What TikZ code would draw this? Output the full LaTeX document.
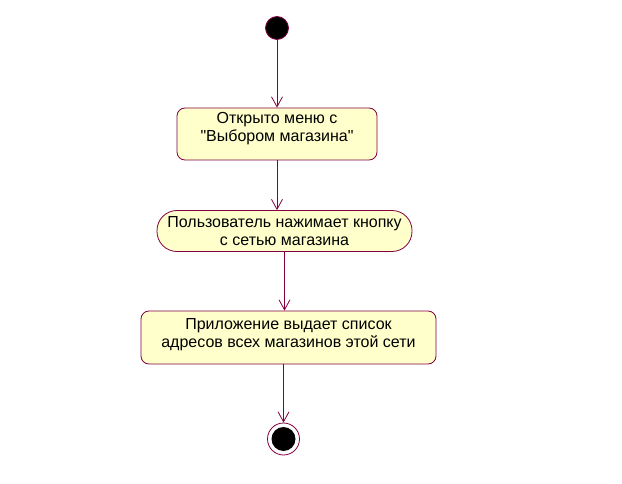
\documentclass[tikz,border=0pt]{standalone}
\usepackage{fontspec}
\setmainfont{Liberation Sans}[Ligatures=TeXOff]
\usetikzlibrary{arrows.meta}

\definecolor{rosered}{RGB}{128,0,64}
\definecolor{roseyellow}{RGB}{255,255,204}

\begin{document}
\begin{tikzpicture}[x=1pt, y=-1pt, line width=0.8pt,
		state node/.style={draw=rosered, fill=roseyellow, rounded corners=8pt,
			align=center, inner sep=0pt, font=\fontsize{16}{18}\selectfont},
		every edge/.style={draw=rosered, -{Straight Barb[length=10pt,width=11pt]}}]
	\useasboundingbox (0,0) rectangle (622,484);

			\node[circle, fill=black, draw=rosered, minimum size=23pt, inner sep=0pt] (start) at (277,28) {};
			\node[state node, minimum width=200pt, minimum height=52pt, text depth=14pt] (1) at (277,134) {Открыто меню с\\"Выбором магазина"};
			\node[state node, minimum width=255pt, minimum height=41pt, rounded corners=20pt] (2) at (284.5,231) {Пользователь нажимает кнопку\\с сетью магазина};
			\node[state node, minimum width=295pt, minimum height=53pt, text depth=10pt] (3) at (288.5,337.5) {Приложение выдает список\\адресов всех магазинов этой сети};
			\node[circle, draw=rosered, minimum size=32pt, inner sep=0pt] (end) at (283.5,439) {};
			\node[circle, fill=black, minimum size=24pt, inner sep=0pt] at (end) {};

			\path
			(start) edge (1)
			(1) edge (1.south |- 2.north)
			(2.south) edge (2.south |- 3.north)
			(3.south -| end) edge (end);
		\end{tikzpicture}
\end{document}
